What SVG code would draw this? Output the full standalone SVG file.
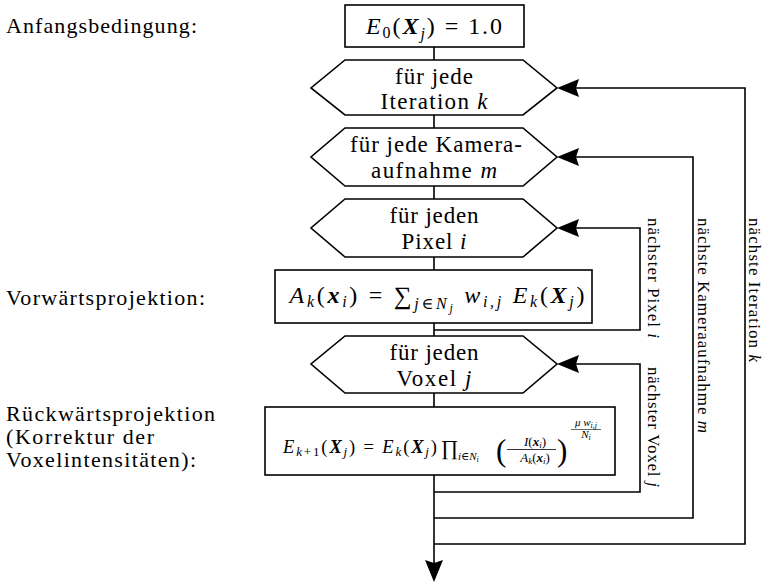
<svg xmlns="http://www.w3.org/2000/svg" width="763" height="585" viewBox="0 0 763 585" font-family="'Liberation Serif', 'DejaVu Serif', serif">
<style>
.t{fill:#000}
.i{font-style:italic}
.b{font-weight:bold;font-style:italic}
.shape{fill:#fff;stroke:#000;stroke-width:1.6}
.conn{fill:none;stroke:#000;stroke-width:1.6}
.head{fill:#000;stroke:none}
.h{font-size:23px;text-anchor:middle}
</style>
<defs>
<path id="ah" class="head" d="M0,0 L-22,-9 L-19,0 L-22,9 Z"/>
</defs>
<rect width="763" height="585" fill="#fff"/>
<g id="labels">
<text class="t" x="6" y="33" font-size="22" textLength="191" lengthAdjust="spacing">Anfangsbedingung:</text>
<text class="t" x="6" y="305" font-size="22" textLength="199" lengthAdjust="spacing">Vorwärtsprojektion:</text>
<text class="t" x="6" y="421" font-size="22" textLength="209" lengthAdjust="spacing">Rückwärtsprojektion</text>
<text class="t" x="6" y="444" font-size="22" textLength="148" lengthAdjust="spacing">(Korrektur der</text>
<text class="t" x="6" y="467" font-size="22" textLength="190" lengthAdjust="spacing">Voxelintensitäten):</text>
</g>
<g id="connectors">
<path class="conn" d="M434,47 V60 M434,115 V128 M434,186 V199 M434,257 V270 M434,323 V336 M434,393 V407"/>
<path class="conn" d="M434,475 V570"/>
<use href="#ah" transform="translate(434,582) rotate(90)"/>
<path class="conn" d="M434,330 H640 V228 H570"/>
<use href="#ah" transform="translate(557,228) rotate(180)"/>
<path class="conn" d="M434,492 H640 V364 H570"/>
<use href="#ah" transform="translate(557,364) rotate(180)"/>
<path class="conn" d="M434,518 H693 V157 H570"/>
<use href="#ah" transform="translate(557,157) rotate(180)"/>
<path class="conn" d="M434,544 H745 V88 H570"/>
<use href="#ah" transform="translate(557,88) rotate(180)"/>
<text class="t" font-size="17" transform="translate(648,218) rotate(90)" textLength="120" lengthAdjust="spacing">nächster Pixel <tspan class="i">i</tspan></text>
<text class="t" font-size="17" transform="translate(648,367) rotate(90)" textLength="120" lengthAdjust="spacing">nächster Voxel <tspan class="i">j</tspan></text>
<text class="t" font-size="17" transform="translate(698,218) rotate(90)" textLength="215" lengthAdjust="spacing">nächste Kameraaufnahme <tspan class="i">m</tspan></text>
<text class="t" font-size="17" transform="translate(749,218) rotate(90)" textLength="144" lengthAdjust="spacing">nächste Iteration <tspan class="i">k</tspan></text>
</g>
<g id="init">
<rect class="shape" x="345" y="5" width="179" height="42"/>
<text class="t" x="434" y="34" font-size="24" text-anchor="middle" textLength="136" lengthAdjust="spacing"><tspan class="i">E</tspan><tspan font-size="16" dy="4">0</tspan><tspan dy="-4">(</tspan><tspan class="b">X</tspan><tspan class="i" font-size="16" dy="5">j</tspan><tspan dy="-5">) = 1.0</tspan></text>
</g>
<g id="loop-k">
<polygon class="shape" points="345,60 523,60 557,88 523,115 345,115 311,88"/>
<text class="t h" x="434" y="84" textLength="78" lengthAdjust="spacing">für jede</text>
<text class="t h" x="434" y="109" textLength="107" lengthAdjust="spacing">Iteration <tspan class="i">k</tspan></text>
</g>
<g id="loop-m">
<polygon class="shape" points="345,128 523,128 557,157 523,186 345,186 311,157"/>
<text class="t h" x="436" y="152" textLength="172" lengthAdjust="spacing">für jede Kamera-</text>
<text class="t h" x="434" y="178" textLength="126" lengthAdjust="spacing">aufnahme <tspan class="i">m</tspan></text>
</g>
<g id="loop-i">
<polygon class="shape" points="345,199 523,199 557,228 523,257 345,257 311,228"/>
<text class="t h" x="434" y="223" textLength="89" lengthAdjust="spacing">für jeden</text>
<text class="t h" x="434" y="249" textLength="65" lengthAdjust="spacing">Pixel <tspan class="i">i</tspan></text>
</g>
<g id="forward">
<rect class="shape" x="275" y="270" width="317" height="53"/>
<text class="t" x="437" y="303" font-size="24" text-anchor="middle" textLength="295" lengthAdjust="spacing"><tspan class="i">A</tspan><tspan class="i" font-size="16" dy="4">k</tspan><tspan dy="-4">(</tspan><tspan class="b">x</tspan><tspan class="i" font-size="16" dy="4">i</tspan><tspan dy="-4">) = </tspan><tspan font-size="25" dy="1">∑</tspan><tspan class="i" font-size="16" dy="5">j</tspan><tspan font-size="16">∈</tspan><tspan class="i" font-size="16">N</tspan><tspan class="i" font-size="12" dy="3">j</tspan><tspan dy="-9"> </tspan><tspan class="i">w</tspan><tspan class="i" font-size="16" dy="4">i,j</tspan><tspan dy="-4"> </tspan><tspan class="i">E</tspan><tspan class="i" font-size="16" dy="4">k</tspan><tspan dy="-4">(</tspan><tspan class="b">X</tspan><tspan class="i" font-size="16" dy="4">j</tspan><tspan dy="-4">)</tspan></text>
</g>
<g id="loop-j">
<polygon class="shape" points="345,336 523,336 557,364 523,393 345,393 311,364"/>
<text class="t h" x="434" y="360" textLength="89" lengthAdjust="spacing">für jeden</text>
<text class="t h" x="434" y="386" textLength="75" lengthAdjust="spacing">Voxel <tspan class="i">j</tspan></text>
</g>
<g id="backward">
<rect class="shape" x="265" y="407" width="350" height="68"/>
<text class="t" x="283" y="453" font-size="18.5" textLength="154" lengthAdjust="spacing"><tspan class="i">E</tspan><tspan font-size="13" dy="3"><tspan class="i">k</tspan>+1</tspan><tspan dy="-3">(</tspan><tspan class="b">X</tspan><tspan class="i" font-size="13" dy="3">j</tspan><tspan dy="-3">) = </tspan><tspan class="i">E</tspan><tspan class="i" font-size="13" dy="3">k</tspan><tspan dy="-3">(</tspan><tspan class="b">X</tspan><tspan class="i" font-size="13" dy="3">j</tspan><tspan dy="-3">)</tspan></text>
<text class="t" x="441" y="455" font-size="21">∏</text>
<text class="t" x="458" y="460" font-size="11"><tspan class="i">i</tspan>∈<tspan class="i">N</tspan><tspan class="i" font-size="8" dy="2">i</tspan></text>
<text class="t" x="496" y="461" font-size="31">(</text>
<text class="t" x="535" y="446" font-size="13" text-anchor="middle"><tspan class="i">I</tspan>(<tspan class="b">x</tspan><tspan class="i" font-size="9" dy="2">i</tspan><tspan dy="-2">)</tspan></text>
<line x1="507" y1="449.5" x2="556" y2="449.5" stroke="#000" stroke-width="0.8"/>
<text class="t" x="535" y="462" font-size="13" text-anchor="middle"><tspan class="i">A</tspan><tspan class="i" font-size="9" dy="2">k</tspan><tspan dy="-2">(</tspan><tspan class="b">x</tspan><tspan class="i" font-size="9" dy="2">i</tspan><tspan dy="-2">)</tspan></text>
<text class="t" x="557" y="461" font-size="31">)</text>
<text class="t" x="586" y="426" font-size="11" text-anchor="middle"><tspan class="i">μ w</tspan><tspan class="i" font-size="8" dy="2">i,j</tspan></text>
<line x1="571" y1="429.5" x2="601" y2="429.5" stroke="#000" stroke-width="0.6"/>
<text class="t" x="586" y="438" font-size="11" text-anchor="middle"><tspan class="i">N</tspan><tspan class="i" font-size="8" dy="2">i</tspan></text>
</g>
</svg>
